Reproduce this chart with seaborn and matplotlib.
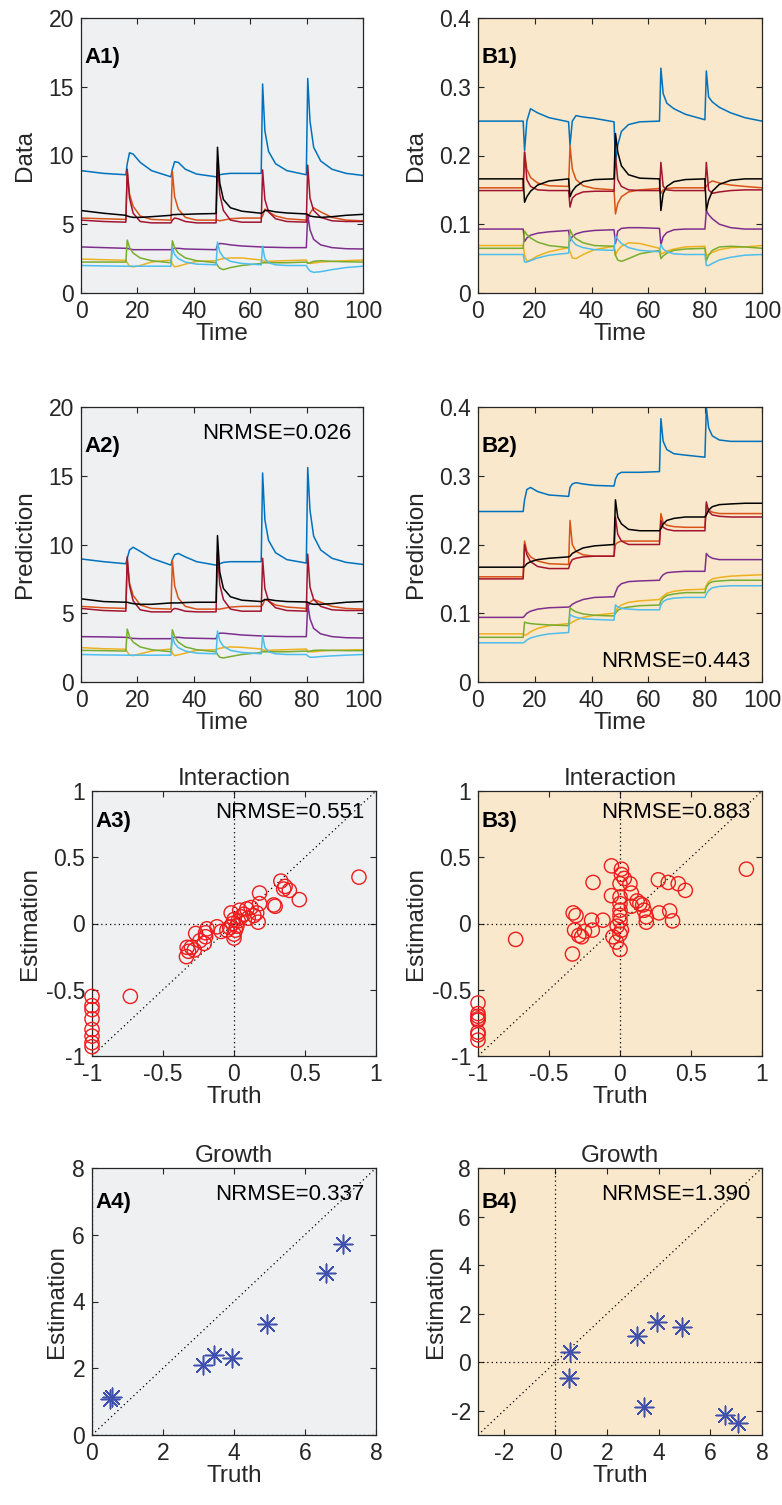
import numpy as np
import pandas as pd
import matplotlib
matplotlib.use("Agg")
import matplotlib.pyplot as plt
from matplotlib.ticker import FuncFormatter
import seaborn as sns

# shared time grid (perturbations at 16, 32, 48, 64, 80)
time = [0, 8,
        15.9, 16.4, 17.2, 18.5, 21, 25,
        31.9, 32.4, 33.2, 34.5, 37, 41,
        47.9, 48.4, 49.2, 50.5, 53, 57,
        63.9, 64.4, 65.2, 66.5, 69, 73,
        79.9, 80.4, 81.2, 82.5, 85, 89,
        94, 100]

species = ['s1', 's2', 's3', 's4', 's5', 's6', 's7', 's8']
line_colors = ['#0072BD', '#D95319', '#EDB120', '#7E2F8E', '#77AC30', '#4DBEEE', '#A2142F', '#000000']

# ---- A1: data, community A
a1_blue = [8.9, 8.7, 8.6, 9.4, 10.2, 10.1, 9.5, 8.9, 8.45, 9.0, 9.55, 9.5, 9.0, 8.65,
           8.45, 8.5, 8.6, 8.65, 8.7, 8.7, 8.7, 15.2, 11.8, 10.3, 9.4, 8.9,
           8.6, 15.6, 12.5, 10.6, 9.6, 9.0, 8.7, 8.55]
a1_orange = [5.45, 5.4, 5.35, 8.8, 7.2, 6.3, 5.6, 5.35, 5.3, 8.85, 7.0, 6.1, 5.5, 5.3,
             5.3, 5.3, 5.25, 5.3, 5.4, 5.45, 5.45, 5.6, 6.1, 5.9, 5.6, 5.4,
             5.3, 5.3, 5.8, 6.2, 5.9, 5.5, 5.3, 5.25]
a1_yellow = [2.47, 2.42, 2.38, 2.2, 1.95, 1.9, 2.0, 2.25, 2.4, 2.1, 1.9, 1.95, 2.1, 2.3,
             2.35, 2.4, 2.45, 2.5, 2.55, 2.55, 2.4, 2.35, 2.3, 2.3, 2.33, 2.35,
             2.4, 2.2, 2.15, 2.18, 2.25, 2.3, 2.35, 2.4]
a1_purple = [3.35, 3.3, 3.25, 3.25, 3.2, 3.15, 3.15, 3.15, 3.15, 3.2, 3.25, 3.25, 3.2, 3.18,
             3.15, 3.5, 3.6, 3.58, 3.5, 3.42, 3.35, 3.35, 3.33, 3.33, 3.32, 3.3,
             3.3, 5.7, 4.6, 3.9, 3.5, 3.3, 3.22, 3.2]
a1_green = [2.25, 2.25, 2.25, 3.85, 3.3, 2.9, 2.55, 2.35, 2.2, 3.8, 3.3, 2.9, 2.55, 2.35,
            2.2, 2.0, 1.8, 1.7, 1.85, 2.0, 2.15, 2.2, 2.2, 2.2, 2.2, 2.2,
            2.25, 2.15, 2.2, 2.3, 2.35, 2.3, 2.27, 2.25]
a1_cyan = [2.0, 1.97, 1.95, 1.95, 1.95, 1.95, 1.95, 1.95, 1.95, 3.3, 2.8, 2.5, 2.25, 2.1,
           2.05, 3.7, 3.0, 2.6, 2.3, 2.15, 2.05, 3.4, 2.5, 2.2, 2.05, 2.0,
           2.0, 1.8, 1.6, 1.5, 1.55, 1.7, 1.85, 1.95]
a1_darkred = [5.3, 5.2, 5.15, 9.0, 6.9, 5.8, 5.2, 5.1, 5.1, 5.3, 5.45, 5.4, 5.2, 5.1,
              5.1, 9.5, 7.2, 6.0, 5.3, 5.15, 5.15, 8.95, 6.8, 5.9, 5.4, 5.2,
              5.15, 9.3, 6.9, 6.0, 5.5, 5.25, 5.2, 5.2]
a1_black = [6.0, 5.8, 5.65, 5.6, 5.55, 5.5, 5.5, 5.55, 5.65, 5.7, 5.7, 5.72, 5.72, 5.75,
            5.78, 10.6, 8.0, 6.8, 6.2, 5.95, 5.8, 5.85, 6.0, 6.0, 5.9, 5.82,
            5.75, 5.7, 5.6, 5.55, 5.5, 5.55, 5.65, 5.72]

# ---- A2: prediction, community A
a2_blue = [8.95, 8.75, 8.6, 9.0, 9.6, 9.8, 9.5, 9.0, 8.5, 8.9, 9.25, 9.35, 9.1, 8.75,
           8.5, 8.55, 8.6, 8.7, 8.75, 8.75, 8.75, 15.2, 11.8, 10.3, 9.4, 8.9,
           8.65, 15.6, 12.5, 10.6, 9.6, 9.0, 8.7, 8.55]
a2_orange = [5.5, 5.4, 5.35, 8.8, 7.2, 6.3, 5.6, 5.35, 5.3, 8.85, 7.0, 6.1, 5.5, 5.3,
             5.3, 5.3, 5.3, 5.35, 5.45, 5.5, 5.5, 5.6, 6.0, 5.9, 5.6, 5.45,
             5.35, 5.4, 5.8, 6.0, 5.8, 5.5, 5.35, 5.3]
a2_yellow = [2.5, 2.42, 2.38, 2.2, 1.95, 1.92, 2.05, 2.25, 2.4, 2.1, 1.92, 1.97, 2.1, 2.3,
             2.35, 2.4, 2.45, 2.5, 2.55, 2.52, 2.4, 2.35, 2.3, 2.3, 2.33, 2.35,
             2.4, 2.25, 2.2, 2.2, 2.25, 2.3, 2.33, 2.35]
a2_purple = [3.3, 3.28, 3.25, 3.25, 3.2, 3.17, 3.15, 3.15, 3.15, 3.2, 3.25, 3.25, 3.2, 3.18,
             3.15, 3.45, 3.55, 3.55, 3.5, 3.42, 3.35, 3.35, 3.33, 3.33, 3.32, 3.3,
             3.3, 5.7, 4.6, 3.9, 3.5, 3.3, 3.22, 3.2]
a2_green = [2.3, 2.28, 2.25, 3.85, 3.3, 2.9, 2.55, 2.35, 2.2, 3.8, 3.3, 2.9, 2.55, 2.35,
            2.2, 2.0, 1.8, 1.75, 1.85, 2.0, 2.15, 2.2, 2.2, 2.2, 2.2, 2.2,
            2.25, 2.2, 2.25, 2.3, 2.32, 2.3, 2.28, 2.28]
a2_cyan = [2.0, 1.97, 1.95, 1.95, 1.95, 1.95, 1.95, 1.95, 1.95, 3.3, 2.8, 2.5, 2.25, 2.1,
           2.05, 3.7, 3.0, 2.6, 2.3, 2.15, 2.05, 3.4, 2.5, 2.2, 2.05, 2.0,
           2.0, 1.9, 1.8, 1.8, 1.85, 1.9, 1.95, 2.0]
a2_darkred = [5.35, 5.2, 5.15, 9.1, 7.0, 5.9, 5.25, 5.1, 5.1, 5.25, 5.35, 5.3, 5.15, 5.1,
              5.1, 9.4, 7.1, 6.0, 5.3, 5.15, 5.15, 9.0, 6.8, 5.9, 5.4, 5.2,
              5.15, 9.3, 6.9, 6.0, 5.5, 5.25, 5.2, 5.2]
a2_black = [6.05, 5.85, 5.8, 5.8, 5.75, 5.7, 5.65, 5.65, 5.75, 5.75, 5.75, 5.75, 5.78, 5.8,
            5.8, 10.65, 8.0, 6.8, 6.2, 5.95, 5.85, 5.9, 6.0, 6.0, 5.92, 5.85,
            5.82, 5.8, 5.7, 5.65, 5.65, 5.7, 5.8, 5.85]

# ---- B1: data, community B
b1_blue = [0.250, 0.250, 0.250, 0.207, 0.250, 0.268, 0.262, 0.255, 0.249, 0.215, 0.250, 0.258, 0.256, 0.254,
           0.249, 0.190, 0.215, 0.235, 0.245, 0.249, 0.250, 0.327, 0.290, 0.276, 0.268, 0.260,
           0.252, 0.323, 0.285, 0.278, 0.270, 0.262, 0.255, 0.250]
b1_orange = [0.153, 0.153, 0.153, 0.205, 0.180, 0.168, 0.160, 0.156, 0.155, 0.215, 0.180, 0.165, 0.156, 0.152,
             0.150, 0.115, 0.130, 0.140, 0.147, 0.150, 0.152, 0.145, 0.150, 0.152, 0.153, 0.153,
             0.153, 0.155, 0.160, 0.163, 0.160, 0.157, 0.155, 0.153]
b1_yellow = [0.069, 0.069, 0.069, 0.055, 0.046, 0.048, 0.054, 0.060, 0.066, 0.060, 0.051, 0.050, 0.056, 0.063,
             0.068, 0.055, 0.062, 0.068, 0.073, 0.072, 0.065, 0.057, 0.058, 0.061, 0.064, 0.067,
             0.068, 0.055, 0.056, 0.059, 0.063, 0.066, 0.067, 0.069]
b1_purple = [0.093, 0.093, 0.093, 0.075, 0.080, 0.084, 0.087, 0.089, 0.091, 0.076, 0.082, 0.086, 0.089, 0.091,
             0.092, 0.072, 0.090, 0.094, 0.095, 0.095, 0.094, 0.070, 0.082, 0.088, 0.092, 0.093,
             0.093, 0.120, 0.114, 0.108, 0.100, 0.095, 0.093, 0.093]
b1_green = [0.065, 0.065, 0.065, 0.090, 0.085, 0.080, 0.074, 0.069, 0.066, 0.092, 0.085, 0.079, 0.073, 0.069,
            0.068, 0.055, 0.048, 0.046, 0.050, 0.057, 0.062, 0.050, 0.054, 0.058, 0.062, 0.064,
            0.065, 0.047, 0.055, 0.062, 0.067, 0.068, 0.067, 0.065]
b1_cyan = [0.056, 0.056, 0.056, 0.045, 0.045, 0.047, 0.051, 0.055, 0.058, 0.082, 0.076, 0.070, 0.066, 0.063,
           0.062, 0.083, 0.078, 0.072, 0.066, 0.062, 0.060, 0.071, 0.064, 0.060, 0.057, 0.056,
           0.056, 0.040, 0.040, 0.043, 0.048, 0.052, 0.055, 0.056]
b1_darkred = [0.149, 0.149, 0.149, 0.205, 0.165, 0.155, 0.150, 0.149, 0.149, 0.125, 0.138, 0.143, 0.147, 0.148,
              0.148, 0.200, 0.165, 0.155, 0.150, 0.149, 0.149, 0.190, 0.155, 0.150, 0.149, 0.149,
              0.149, 0.190, 0.150, 0.145, 0.147, 0.149, 0.150, 0.150]
b1_black = [0.166, 0.166, 0.166, 0.132, 0.140, 0.148, 0.157, 0.163, 0.166, 0.140, 0.148, 0.155, 0.162, 0.165,
            0.166, 0.232, 0.205, 0.185, 0.172, 0.167, 0.166, 0.120, 0.145, 0.155, 0.162, 0.165,
            0.166, 0.120, 0.135, 0.148, 0.158, 0.164, 0.166, 0.166]

# ---- B2: prediction, community B
b2_blue = [0.248, 0.248, 0.248, 0.265, 0.280, 0.283, 0.277, 0.272, 0.270, 0.283, 0.288, 0.290, 0.288, 0.286,
           0.285, 0.295, 0.302, 0.305, 0.305, 0.305, 0.306, 0.383, 0.350, 0.338, 0.332, 0.330,
           0.327, 0.400, 0.370, 0.358, 0.352, 0.350, 0.350, 0.350]
b2_orange = [0.153, 0.153, 0.153, 0.205, 0.190, 0.182, 0.176, 0.172, 0.171, 0.235, 0.200, 0.190, 0.185, 0.183,
             0.183, 0.200, 0.203, 0.205, 0.205, 0.205, 0.205, 0.245, 0.232, 0.228, 0.226, 0.225,
             0.225, 0.258, 0.250, 0.247, 0.245, 0.245, 0.245, 0.245]
b2_yellow = [0.070, 0.070, 0.070, 0.068, 0.069, 0.073, 0.078, 0.082, 0.085, 0.085, 0.087, 0.090, 0.094, 0.097,
             0.100, 0.103, 0.108, 0.112, 0.116, 0.118, 0.120, 0.122, 0.125, 0.129, 0.132, 0.134,
             0.135, 0.140, 0.146, 0.150, 0.152, 0.154, 0.155, 0.156]
b2_purple = [0.094, 0.094, 0.094, 0.096, 0.100, 0.103, 0.106, 0.108, 0.109, 0.110, 0.113, 0.116, 0.120, 0.123,
             0.124, 0.130, 0.138, 0.143, 0.146, 0.147, 0.148, 0.152, 0.156, 0.159, 0.160, 0.161,
             0.161, 0.187, 0.183, 0.180, 0.178, 0.178, 0.178, 0.178]
b2_green = [0.065, 0.065, 0.065, 0.087, 0.086, 0.085, 0.084, 0.083, 0.082, 0.108, 0.105, 0.102, 0.099, 0.097,
            0.096, 0.100, 0.104, 0.107, 0.109, 0.111, 0.112, 0.118, 0.122, 0.126, 0.128, 0.130,
            0.130, 0.138, 0.143, 0.146, 0.147, 0.148, 0.148, 0.148]
b2_cyan = [0.057, 0.057, 0.057, 0.058, 0.061, 0.064, 0.067, 0.070, 0.072, 0.098, 0.096, 0.094, 0.092, 0.091,
           0.090, 0.112, 0.109, 0.107, 0.106, 0.105, 0.105, 0.112, 0.117, 0.120, 0.122, 0.123,
           0.123, 0.128, 0.133, 0.137, 0.139, 0.140, 0.140, 0.140]
b2_darkred = [0.150, 0.150, 0.150, 0.200, 0.185, 0.175, 0.168, 0.165, 0.165, 0.172, 0.178, 0.180, 0.182, 0.183,
              0.183, 0.240, 0.215, 0.205, 0.200, 0.200, 0.200, 0.235, 0.225, 0.222, 0.220, 0.220,
              0.220, 0.262, 0.248, 0.243, 0.241, 0.240, 0.240, 0.240]
b2_black = [0.167, 0.167, 0.167, 0.168, 0.172, 0.175, 0.178, 0.180, 0.182, 0.183, 0.187, 0.190, 0.195, 0.198,
            0.200, 0.265, 0.240, 0.230, 0.222, 0.220, 0.220, 0.223, 0.230, 0.235, 0.238, 0.240,
            0.240, 0.243, 0.250, 0.255, 0.258, 0.259, 0.260, 0.260]

# ---- interaction estimates
a3_truth = [-1, -1, -1, -1, -1, -1, -1, -1, -0.73, 0.88, 0.46, 0.33, 0.36, 0.39, 0.35,
            0.18, 0.18, 0.28, 0.29, 0.17, 0.14, 0.09, 0.07, 0.12, 0.16, 0.10,
            0.05, 0.03, 0.0, 0.02, -0.01, 0.01, 0.0, -0.02, 0.04, -0.03, -0.05, 0.0,
            -0.12, -0.19, -0.20, -0.27, -0.21, -0.30, -0.33, -0.335, -0.32, -0.28, -0.24, -0.20, -0.09]
a3_est = [-0.55, -0.62, -0.65, -0.72, -0.80, -0.85, -0.90, -0.93, -0.55, 0.35, 0.18, 0.32, 0.28, 0.25, 0.26,
          0.23, 0.15, 0.14, 0.13, 0.01, 0.06, 0.11, 0.07, 0.12, 0.08, 0.04,
          0.05, 0.02, 0.03, -0.02, 0.0, -0.05, -0.08, 0.08, 0.10, -0.03, -0.05, -0.11,
          -0.025, -0.04, -0.10, -0.075, -0.15, -0.18, -0.18, -0.25, -0.21, -0.20, -0.13, -0.07, -0.06]
b3_truth = [-1, -1, -1, -1, -1, -1, -1, -1, -0.735, 0.89, -0.335, -0.19,
            -0.06, 0.01, 0.01, 0.03, 0.0, 0.07, 0.08, -0.06, 0.0, 0.0, 0.0, 0.0, 0.0, -0.02, 0.01, 0.0,
            -0.05, -0.025, 0.0, 0.27, 0.34, 0.41, 0.46, 0.275, 0.35, 0.37,
            0.14, 0.16, 0.17, 0.185, 0.185, 0.12, 0.08,
            -0.33, -0.31, -0.32, -0.29, -0.27, -0.25, -0.20, -0.195, -0.12]
b3_est = [-0.60, -0.68, -0.70, -0.72, -0.73, -0.82, -0.84, -0.88, -0.12, 0.41, -0.23, 0.31,
          0.435, 0.41, 0.37, 0.34, 0.30, 0.30, 0.23, 0.21, 0.20, 0.15, 0.10, 0.06, 0.02, -0.02, -0.05, -0.08,
          -0.10, -0.14, -0.196, 0.33, 0.31, 0.30, 0.25, 0.08, 0.095, 0.02,
          0.15, 0.14, 0.10, 0.05, 0.01, 0.17, 0.13,
          0.08, 0.06, -0.05, -0.09, -0.10, -0.06, 0.025, -0.05, 0.025]

# ---- growth estimates
growth_truth = [0.52, 0.55, 3.14, 3.44, 3.94, 4.92, 6.58, 7.06]
a4_est = [1.07, 1.15, 2.10, 2.40, 2.32, 3.33, 4.85, 5.72]
b4_est = [-0.66, 0.40, 1.06, -1.86, 1.65, 1.44, -2.17, -2.49]

bg_a = '#eef0f2'
bg_b = '#f9e8cb'
ink = '#262626'
TICK_FS = 16.5
LAB_FS = 17.5

sns.set_theme(style='ticks')
plt.rcParams['font.family'] = ['Liberation Sans', 'DejaVu Sans']
plt.rcParams['axes.unicode_minus'] = False
plt.rcParams['axes.edgecolor'] = ink
plt.rcParams['xtick.color'] = ink
plt.rcParams['ytick.color'] = ink
plt.rcParams['text.color'] = ink
plt.rcParams['axes.labelcolor'] = ink

W, H = 782, 1505
fig = plt.figure(figsize=(W / 100, H / 100), dpi=100)


def add_ax(x0, y0, x1, y1, bg):
    ax = fig.add_axes([x0 / W, 1 - y1 / H, (x1 - x0) / W, (y1 - y0) / H])
    ax.set_facecolor(bg)
    for s in ax.spines.values():
        s.set_linewidth(0.9)
        s.set_color(ink)
    ax.tick_params(direction='in', length=4, width=0.8, labelsize=TICK_FS,
                   top=True, right=True, pad=5)
    ax.xaxis.set_major_formatter(FuncFormatter(lambda v, _: f'{v:g}'))
    ax.yaxis.set_major_formatter(FuncFormatter(lambda v, _: f'{v:g}'))
    return ax


def series_plot(ax, values):
    df = pd.DataFrame({
        'Time': time * len(species),
        'value': np.concatenate(values),
        'species': np.repeat(species, len(time)),
    })
    sns.lineplot(data=df, x='Time', y='value', hue='species', hue_order=species,
                 palette=line_colors, estimator=None, legend=False, linewidth=1.1, ax=ax)


def panel_label(ax, txt, y):
    ax.text(0.012, y, txt, transform=ax.transAxes, fontsize=16, fontweight='bold',
            color='black', va='center', ha='left')


def nrmse(ax, txt, y):
    ax.text(0.96, y, txt, transform=ax.transAxes, fontsize=16, color='black',
            va='center', ha='right')


# Row 1 & 2: time series
panels = [
    (81, 18, 363, 293, bg_a, [a1_blue, a1_orange, a1_yellow, a1_purple, a1_green, a1_cyan, a1_darkred, a1_black],
     'Data', 'A1)', (0, 20), [0, 5, 10, 15, 20], None),
    (478, 18, 762, 293, bg_b, [b1_blue, b1_orange, b1_yellow, b1_purple, b1_green, b1_cyan, b1_darkred, b1_black],
     'Data', 'B1)', (0, 0.4), [0, 0.1, 0.2, 0.3, 0.4], None),
    (81, 407, 363, 682, bg_a, [a2_blue, a2_orange, a2_yellow, a2_purple, a2_green, a2_cyan, a2_darkred, a2_black],
     'Prediction', 'A2)', (0, 20), [0, 5, 10, 15, 20], ('NRMSE=0.026', 0.905)),
    (478, 407, 762, 682, bg_b, [b2_blue, b2_orange, b2_yellow, b2_purple, b2_green, b2_cyan, b2_darkred, b2_black],
     'Prediction', 'B2)', (0, 0.4), [0, 0.1, 0.2, 0.3, 0.4], ('NRMSE=0.443', 0.075)),
]
for x0, y0, x1, y1, bg, vals, ylab, lab, ylim, yt, note in panels:
    ax = add_ax(x0, y0, x1, y1, bg)
    series_plot(ax, vals)
    ax.set_xlim(0, 100)
    ax.set_ylim(*ylim)
    ax.set_xticks([0, 20, 40, 60, 80, 100])
    ax.set_yticks(yt)
    ax.set_xlabel('Time', fontsize=LAB_FS, labelpad=0)
    ax.set_ylabel(ylab, fontsize=LAB_FS, labelpad=9)
    panel_label(ax, lab, 0.855)
    if note:
        nrmse(ax, note[0], note[1])

# Row 3: interaction
for x0, y0, x1, y1, bg, tx, ex, lab, note in [
        (92, 791, 376, 1056, bg_a, a3_truth, a3_est, 'A3)', 'NRMSE=0.551'),
        (478, 791, 762, 1056, bg_b, b3_truth, b3_est, 'B3)', 'NRMSE=0.883')]:
    ax = add_ax(x0, y0, x1, y1, bg)
    ax.axline((0, 0), slope=1, color='black', ls=(0, (1, 2.5)), lw=0.9, zorder=1)
    ax.axhline(0, color='black', ls=(0, (1, 2.5)), lw=0.9, zorder=1)
    ax.axvline(0, color='black', ls=(0, (1, 2.5)), lw=0.9, zorder=1)
    sns.scatterplot(x=tx, y=ex, marker='o', s=105, facecolor='none',
                    edgecolor='#ee1c1c', linewidth=1.0, ax=ax, zorder=3, clip_on=False)
    ax.set_xlim(-1, 1)
    ax.set_ylim(-1, 1)
    ax.set_xticks([-1, -0.5, 0, 0.5, 1])
    ax.set_yticks([-1, -0.5, 0, 0.5, 1])
    ax.set_title('Interaction', fontsize=LAB_FS, pad=4)
    ax.set_xlabel('Truth', fontsize=LAB_FS, labelpad=0)
    ax.set_ylabel('Estimation', fontsize=LAB_FS, labelpad=3)
    panel_label(ax, lab, 0.885)
    nrmse(ax, note, 0.92)

# Row 4: growth
for x0, y0, x1, y1, bg, ex, lab, note, lim, ticks in [
        (92, 1168, 376, 1435, bg_a, a4_est, 'A4)', 'NRMSE=0.337', (0, 8), [0, 2, 4, 6, 8]),
        (478, 1168, 762, 1435, bg_b, b4_est, 'B4)', 'NRMSE=1.390', (-3, 8), [-2, 0, 2, 4, 6, 8])]:
    ax = add_ax(x0, y0, x1, y1, bg)
    ax.axline((0, 0), slope=1, color='black', ls=(0, (1, 2.5)), lw=0.9, zorder=1)
    ax.axhline(0, color='black', ls=(0, (1, 2.5)), lw=0.9, zorder=1)
    ax.axvline(0, color='black', ls=(0, (1, 2.5)), lw=0.9, zorder=1)
    sns.scatterplot(x=growth_truth, y=ex, marker=(8, 2, 0), s=180, color='#3f51ad',
                    edgecolor='#3f51ad', linewidth=1.1, ax=ax, zorder=3)
    ax.set_xlim(*lim)
    ax.set_ylim(*lim)
    ax.set_xticks(ticks)
    ax.set_yticks(ticks)
    ax.set_title('Growth', fontsize=LAB_FS, pad=4)
    ax.set_xlabel('Truth', fontsize=LAB_FS, labelpad=0)
    ax.set_ylabel('Estimation', fontsize=LAB_FS, labelpad=3)
    panel_label(ax, lab, 0.87)
    nrmse(ax, note, 0.9)

fig.savefig('out.png', dpi=100)
